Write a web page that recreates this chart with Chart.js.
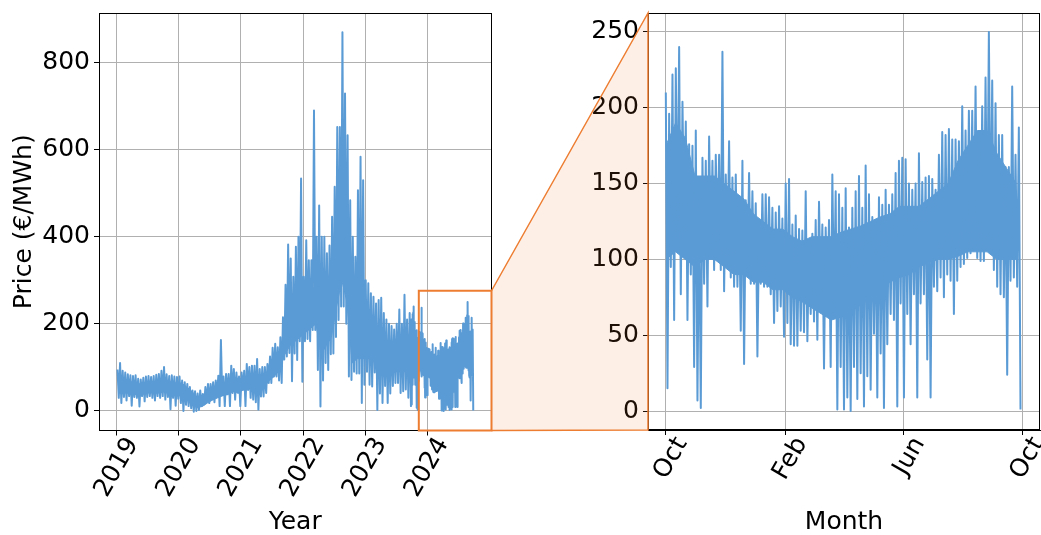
<!DOCTYPE html>
<html lang="en">
<head>
<meta charset="UTF-8">
<title>Day-ahead price</title>
<script src="https://cdn.jsdelivr.net/npm/chart.js"></script>
<style>
  html, body { margin: 0; padding: 0; background: #fff; overflow: hidden; }
  body { position: relative; width: 1041px; height: 535px; }
  canvas { position: absolute; top: 0; }
  #yearChart { left: 0; }
  #monthChart { left: 540px; }
  #zoomLinks { left: 0; pointer-events: none; }
</style>
</head>
<body>
<canvas id="yearChart" width="520" height="535"></canvas>
<canvas id="monthChart" width="520" height="535"></canvas>
<canvas id="zoomLinks" width="1041" height="535"></canvas>
<script>
// half-month highs / lows (EUR/MWh), 24 per year
const high2019 = [95, 110, 92, 88, 84, 82, 80, 82, 74, 72, 76, 79, 80, 78, 80, 83, 85, 92, 101, 84, 80, 82, 79, 78];
const low2019  = [30, 18, 32, 24, 34, 12, 32, 30, 10, 34, 22, 32, 34, 30, 24, 34, 30, 34, 26, 32, 4, 30, 12, 28];
const high2020 = [79, 70, 66, 62, 55, 47, 45, 40, 47, 39, 55, 62, 62, 66, 70, 81, 163, 79, 85, 85, 104, 96, 88, 79];
const low2020  = [18, 0, 14, 11, 6, -2, 0, 2, 11, 15, 22, 18, 26, 20, 33, 11, 36, 11, 38, 11, 41, 26, 46, 11];
const high2021 = [88, 92, 108, 101, 104, 104, 119, 96, 101, 101, 108, 125, 145, 154, 146, 169, 215, 290, 382, 350, 308, 377, 400, 534];
const low2021  = [48, 11, 48, 30, 26, 20, 3, 33, 33, 41, 64, 64, 79, 79, 70, 64, 118, 125, 133, 68, 132, 117, 160, 67];
const high2022 = [308, 392, 346, 346, 690, 400, 472, 400, 400, 362, 380, 446, 515, 652, 652, 870, 729, 633, 484, 400, 354, 507, 584, 530];
const low2022  = [160, 165, 160, 186, 186, 94, 10, 70, 110, 94, 130, 132, 170, 209, 240, 240, 200, 79, 71, 90, 86, 86, 18, 60];
// Jan - Sep 2023, the rest comes from the detailed year below
const high2023 = [300, 293, 270, 262, 247, 255, 260, 225, 210, 200, 195, 187, 200, 233, 200, 267, 210, 225];
const low2023  = [90, 60, 56, 88, 2, 40, 18, 57, 18, 40, 57, 64, 64, 41, 45, 49, 30, 11];

// monthly top / bottom of the dense part of the band
const ceil2019  = [70, 72, 68, 65, 62, 60, 62, 62, 64, 70, 68, 64];
const floor2019 = [40, 42, 40, 38, 36, 40, 42, 40, 42, 45, 40, 38];
const ceil2020  = [64, 55, 45, 32, 30, 38, 45, 52, 58, 65, 75, 72];
const floor2020 = [35, 30, 18, 8, 10, 18, 25, 30, 35, 38, 45, 40];
const ceil2021  = [78, 80, 82, 80, 85, 90, 100, 120, 150, 230, 250, 280];
const floor2021 = [50, 50, 50, 45, 55, 70, 80, 95, 130, 150, 160, 170];
const ceil2022  = [260, 260, 300, 280, 260, 290, 380, 500, 420, 230, 260, 280];
const floor2022 = [180, 190, 200, 130, 150, 170, 240, 300, 250, 110, 120, 120];
const ceil2023  = [200, 180, 170, 150, 140, 130, 135, 140, 150];
const floor2023 = [120, 120, 90, 80, 80, 90, 90, 90, 90];

// Oct 2023 - Sep 2024, highs / lows every ~3.4 days
const octDecHigh = [210, 196, 222, 226, 240, 204, 191, 176, 175, 185, 139, 167, 165, 181, 165, 169, 169, 237, 156, 178, 154, 156, 139, 165, 139, 157, 145];
const octDecLow  = [15, 95, 60, 117, 77, 121, 60, 90, 29, 7, 2, 84, 69, 104, 93, 106, 93, 79, 99, 88, 82, 82, 53, 31, 90, 84, 84];
const janMarHigh = [137, 119, 143, 143, 141, 134, 131, 135, 127, 150, 153, 123, 129, 120, 119, 145, 108, 117, 126, 138, 123, 121, 126, 156, 145, 143, 134];
const janMarLow  = [36, 84, 82, 82, 77, 58, 66, 69, 49, 58, 44, 43, 43, 53, 52, 46, 64, 59, 47, 73, 28, 69, 29, 71, 1, 29, 1];
const aprJunHigh = [147, 121, 134, 145, 155, 134, 162, 143, 128, 126, 141, 136, 146, 136, 143, 157, 165, 167, 166, 150, 146, 150, 170, 151, 154, 155, 153];
const aprJunLow  = [9, 0, 29, 8, 25, 3, 23, 14, 51, 9, 38, 2, 44, 64, 60, 3, 71, 9, 64, 44, 77, 9, 71, 77, 34, 9, 82];
const julSepHigh = [146, 169, 184, 182, 186, 179, 179, 178, 201, 185, 198, 198, 214, 167, 201, 220, 250, 218, 203, 182, 182, 161, 161, 214, 169, 187];
const julSepLow  = [79, 88, 75, 90, 86, 64, 86, 95, 97, 101, 104, 106, 101, 99, 99, 108, 108, 93, 82, 77, 75, 24, 86, 88, 82, 1];
// top / bottom of the dense band, every 10 days from Oct 1st
const dayCeil  = [175, 190, 180, 155, 155, 155, 150, 145, 140, 130, 125, 120, 120, 115, 112, 115, 115, 115, 118, 120, 122, 125, 128, 130, 135, 135, 135, 140, 145, 150, 165, 175, 185, 185, 170, 160, 150];
const dayFloor = [100, 105, 100, 95, 100, 100, 95, 90, 90, 85, 85, 80, 80, 75, 72, 68, 64, 60, 62, 65, 70, 75, 80, 85, 88, 90, 95, 98, 100, 100, 102, 105, 105, 105, 100, 100, 100];

const yearTicks = [2019, 2020, 2021, 2022, 2023, 2024];
const leftPriceTicks = [0, 200, 400, 600, 800];
const rightPriceTicks = [0, 50, 100, 150, 200, 250];
const monthTickDays = [0, 123, 244, 366];
const monthTickLabels = ['Oct', 'Feb', 'Jun', 'Oct'];

const OCT_2023 = 2023.748;   // Oct 1st 2023 as fractional year
const zoomBoxStart = 2023.866;
const zoomBoxTop = 276;

const BLUE = '#5b9bd5';
const ORANGE = '#ed7d31';
const FONT = { family: 'DejaVu Sans', size: 25 };

// hourly prices are drawn as a zigzag between each period's high and low
function zigzag(highs, lows, xOf) {
  const pts = [];
  highs.forEach((h, i) => {
    pts.push({ x: xOf(i, 0.25), y: h });
    pts.push({ x: xOf(i, 0.75), y: lows[i] });
  });
  return pts;
}

const dayHigh = [...octDecHigh, ...janMarHigh, ...aprJunHigh, ...julSepHigh];
const dayLow = [...octDecLow, ...janMarLow, ...aprJunLow, ...julSepLow];
const STEP = 366 / dayHigh.length;
const month = {
  zigzag: zigzag(dayHigh, dayLow, (i, f) => (i + f - 0.25) * STEP),
  ceil: dayCeil.map((v, i) => ({ x: i * 10, y: v })),
  floor: dayFloor.map((v, i) => ({ x: i * 10, y: v }))
};

const toYear = p => ({ x: OCT_2023 + p.x / 366, y: p.y });
const yearHighs = [high2019, high2020, high2021, high2022, high2023];
const yearLows = [low2019, low2020, low2021, low2022, low2023];
const yearCeils = [ceil2019, ceil2020, ceil2021, ceil2022, ceil2023];
const yearFloors = [floor2019, floor2020, floor2021, floor2022, floor2023];
const year = { zigzag: [], ceil: [], floor: [] };
yearHighs.forEach((hs, n) => {
  const monthX = m => 2019 + n + (m + 0.5) / 12;
  year.zigzag.push(...zigzag(hs, yearLows[n], (k, f) => 2019 + n + (k + f) / 24));
  year.ceil.push(...yearCeils[n].map((v, m) => ({ x: monthX(m), y: v })));
  year.floor.push(...yearFloors[n].map((v, m) => ({ x: monthX(m), y: v })));
});
year.zigzag.push(...month.zigzag.map(toYear));
year.ceil.push(...month.ceil.map(toYear));
year.floor.push(...month.floor.map(toYear));

const frame = {
  id: 'frame',
  afterDatasetsDraw(chart) {
    const { ctx, chartArea: a } = chart;
    const l = Math.round(a.left) + 0.5, t = Math.round(a.top) + 0.5;
    const r = Math.round(a.right) - 0.5, b = Math.round(a.bottom) - 0.5;
    ctx.save();
    ctx.strokeStyle = '#000';
    ctx.lineWidth = 1;
    ctx.strokeRect(l, t, r - l, b - t);
    ctx.restore();
  }
};

function makeChart(id, o) {
  const line = { pointRadius: 0, tension: 0, borderJoinStyle: 'round' };
  return new Chart(document.getElementById(id), {
    type: 'line',
    data: {
      datasets: [
        { ...line, data: o.series.zigzag, borderColor: BLUE, borderWidth: 2, fill: false },
        { ...line, data: o.series.ceil, borderColor: BLUE, borderWidth: 1, backgroundColor: BLUE, fill: '+1' },
        { ...line, data: o.series.floor, borderColor: BLUE, borderWidth: 1, fill: false }
      ]
    },
    options: {
      responsive: false,
      animation: false,
      devicePixelRatio: 1,
      events: [],
      layout: { padding: { top: 13, right: o.padRight, left: 0, bottom: 0 } },
      plugins: { legend: { display: false }, tooltip: { enabled: false } },
      scales: {
        x: {
          type: 'linear',
          min: o.xMin,
          max: o.xMax,
          afterBuildTicks: s => { s.ticks = o.xTicks.map(v => ({ value: v })); },
          afterFit: s => { s.height = o.xHeight; s.paddingLeft = 0; s.paddingRight = 0; },
          ticks: {
            autoSkip: false,
            minRotation: 60,
            maxRotation: 60,
            color: '#000',
            font: FONT,
            padding: -3,
            labelOffset: 16,
            callback: o.xLabel
          },
          grid: { color: '#b0b0b0', lineWidth: 1, tickLength: 5, tickColor: '#000' },
          border: { color: '#000', width: 1 },
          title: {
            display: true, text: o.xTitle, color: '#000',
            font: { ...FONT, lineHeight: 1 }, padding: { top: 0, bottom: 0 }
          }
        },
        y: {
          type: 'linear',
          min: o.yMin,
          max: o.yMax,
          afterBuildTicks: s => { s.ticks = o.yTicks.map(v => ({ value: v })); },
          afterFit: s => { s.width = o.yWidth; s.paddingTop = 0; s.paddingBottom = 0; },
          ticks: { color: '#000', font: FONT, padding: 4, callback: v => String(v) },
          grid: { color: '#b0b0b0', lineWidth: 1, tickLength: 5, tickColor: '#000' },
          border: { color: '#000', width: 1 },
          title: {
            display: !!o.yTitle, text: o.yTitle || '', color: '#000',
            font: { ...FONT, lineHeight: 1 }, padding: { top: 12, bottom: 0 }
          }
        }
      }
    },
    plugins: [frame]
  });
}

const yearChart = makeChart('yearChart', {
  series: year,
  xMin: 2018.7125, xMax: 2025.0375,
  xTicks: yearTicks, xLabel: v => String(v), xTitle: 'Year', xHeight: 104.5,
  yMin: -45, yMax: 914, yTicks: leftPriceTicks, yWidth: 99,
  yTitle: 'Price (€/MWh)', padRight: 28.5
});

const monthChart = makeChart('monthChart', {
  series: month,
  xMin: -18.3, xMax: 384.3,
  xTicks: monthTickDays, xLabel: (v, i) => monthTickLabels[i], xTitle: 'Month', xHeight: 105,
  yMin: -12.5, yMax: 262.5, yTicks: rightPriceTicks, yWidth: 108,
  padRight: 20
});

// zoom box on the left panel and the wedge joining it to the detail panel
(function drawZoomLinks() {
  const ctx = document.getElementById('zoomLinks').getContext('2d');
  const offset = 540;
  const ys = yearChart.scales, ya = yearChart.chartArea, ma = monthChart.chartArea;
  const bx0 = ys.x.getPixelForValue(zoomBoxStart);
  const bx1 = ya.right;
  const by0 = ys.y.getPixelForValue(zoomBoxTop);
  const by1 = ya.bottom;
  const mx = offset + ma.left;

  ctx.fillStyle = 'rgba(237, 125, 49, 0.12)';
  ctx.beginPath();
  ctx.moveTo(bx1, by0);
  ctx.lineTo(mx, ma.top);
  ctx.lineTo(mx, ma.bottom);
  ctx.lineTo(bx1, by1);
  ctx.closePath();
  ctx.fill();

  ctx.strokeStyle = ORANGE;
  ctx.lineWidth = 1.5;
  ctx.beginPath();
  ctx.moveTo(bx1, by0);
  ctx.lineTo(mx, ma.top);
  ctx.lineTo(mx, ma.bottom);
  ctx.lineTo(bx1, by1);
  ctx.stroke();

  ctx.lineWidth = 2;
  ctx.strokeRect(bx0, by0, bx1 - bx0, by1 - by0);
})();
</script>
</body>
</html>
